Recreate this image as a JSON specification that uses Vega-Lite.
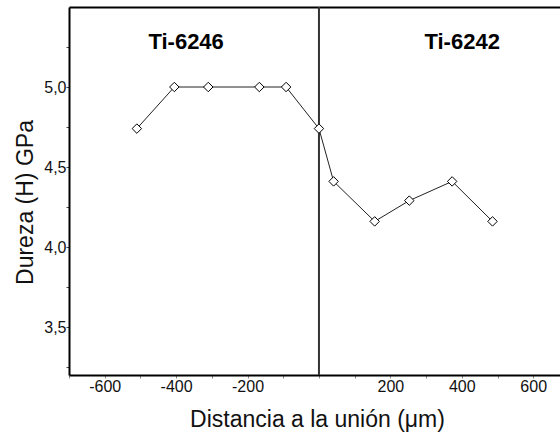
{
  "$schema": "https://vega.github.io/schema/vega-lite/v6.json",
  "autosize": "none",
  "width": 491,
  "height": 368,
  "padding": {"left": 69, "top": 7, "right": 0, "bottom": 62},
  "background": "white",
  "config": {
    "font": "Liberation Sans",
    "view": {"stroke": null},
    "axis": {"domainColor": "#000", "domainWidth": 2, "grid": false, "labelColor": "#111", "titleColor": "#111", "labelFont": "Liberation Sans", "titleFont": "Liberation Sans", "titleFontWeight": "normal"}
  },
  "datasets": {
    "hardness": [
      {"x": -510, "y": 4.74},
      {"x": -405, "y": 5.0},
      {"x": -310, "y": 5.0},
      {"x": -167, "y": 5.0},
      {"x": -92, "y": 5.0},
      {"x": 0, "y": 4.74},
      {"x": 41, "y": 4.41},
      {"x": 156, "y": 4.16},
      {"x": 253, "y": 4.29},
      {"x": 373, "y": 4.41},
      {"x": 486, "y": 4.16}
    ],
    "labels": [
      {"x": -372, "y": 5.24, "label": "Ti-6246"},
      {"x": 401, "y": 5.24, "label": "Ti-6242"}
    ],
    "joint": [{"x": 0}]
  },
  "layer": [
    {
      "data": {"name": "joint"},
      "mark": {"type": "rule", "color": "#333", "strokeWidth": 2},
      "encoding": {
        "x": {"field": "x", "type": "quantitative", "scale": {"domain": [-700, 675], "nice": false, "zero": false},
          "axis": {"orient": "top", "labels": false, "ticks": false, "title": null, "domain": true}}
      }
    },
    {
      "data": {"name": "hardness"},
      "mark": {"type": "line", "color": "#222", "strokeWidth": 1},
      "encoding": {
        "x": {"field": "x", "type": "quantitative", "scale": {"domain": [-700, 675], "nice": false, "zero": false},
          "axis": {"orient": "bottom", "title": "Distancia a la unión (μm)", "values": [-700, -600, -500, -400, -300, -200, -100, 0, 100, 200, 300, 400, 500, 600],
            "labelExpr": "(datum.value % 200 == 0 && datum.value != 0) ? ('' + datum.value) : ''",
            "tickSize": 3, "tickColor": "#888", "labelPadding": 0, "labelFontSize": 16, "labelFlush": false,
            "titleFontSize": 23, "titleBaseline": "alphabetic", "titleY": 51, "titleX": 248}},
        "y": {"field": "y", "type": "quantitative", "scale": {"domain": [3.2, 5.5], "nice": false, "zero": false},
          "axis": {"title": "Dureza (H) GPa", "values": [3.25, 3.5, 3.75, 4.0, 4.25, 4.5, 4.75, 5.0, 5.25],
            "labelExpr": "(round(datum.value * 2) == datum.value * 2) ? replace(format(datum.value, '.1f'), '.', ',') : ''",
            "tickSize": 3, "tickColor": "#444", "labelPadding": 0, "labelFontSize": 16, "labelFlush": false,
            "titleFontSize": 23, "titleBaseline": "alphabetic", "titleX": -37, "titleY": 195, "titleAngle": -90}}
      }
    },
    {
      "data": {"name": "hardness"},
      "mark": {"type": "point", "shape": "diamond", "filled": true, "fill": "white", "stroke": "#000", "strokeWidth": 1, "size": 90, "opacity": 1},
      "encoding": {
        "x": {"field": "x", "type": "quantitative", "scale": {"domain": [-700, 675], "nice": false, "zero": false}, "axis": null},
        "y": {"field": "y", "type": "quantitative", "scale": {"domain": [3.2, 5.5], "nice": false, "zero": false}, "axis": null}
      }
    },
    {
      "data": {"name": "labels"},
      "mark": {"type": "text", "fontWeight": "bold", "fontSize": 22, "baseline": "alphabetic", "align": "center", "color": "#000"},
      "encoding": {
        "x": {"field": "x", "type": "quantitative", "scale": {"domain": [-700, 675], "nice": false, "zero": false}, "axis": null},
        "y": {"field": "y", "type": "quantitative", "scale": {"domain": [3.2, 5.5], "nice": false, "zero": false}, "axis": null},
        "text": {"field": "label"}
      }
    }
  ],
  "resolve": {"axis": {"x": "independent", "y": "independent"}}
}
